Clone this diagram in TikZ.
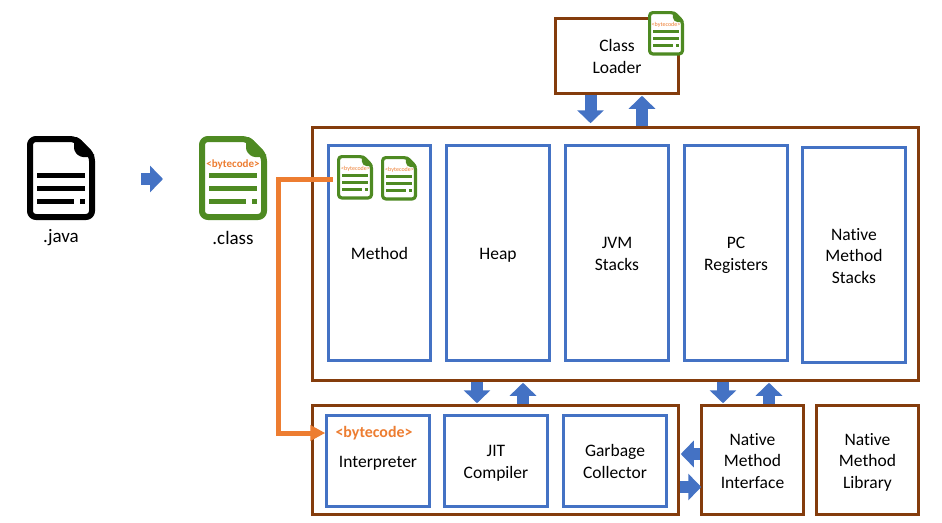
\documentclass[tikz,border=0pt]{standalone}
\usepackage{fontspec}
\setmainfont{Carlito}[Ligatures=CommonOff]
\usetikzlibrary{arrows.meta,calc}
\definecolor{brownbox}{HTML}{843C0C}
\definecolor{bluebox}{HTML}{4472C4}
\definecolor{orangeline}{HTML}{ED7D31}
\definecolor{greendoc}{HTML}{4E8A22}
\normallineskiplimit=-30pt
\lineskiplimit=-30pt
\newcommand{\ls}{\rule[-6pt]{0pt}{25pt}}
\tikzset{
  boxbase/.style={rectangle,fill=white,line width=3pt,align=center,inner sep=0pt,
    font=\fontsize{17.5}{21.5}\selectfont,text=black},
  brownframe/.style={boxbase,draw=brownbox},
  blueframe/.style={boxbase,draw=bluebox},
  blockarrow/.style={draw=bluebox,line width=12pt,-{Triangle[length=13pt,width=26pt]},shorten >=1pt},
  bytetext/.style={text=orangeline,inner sep=0pt},
  doclabel/.style={font=\fontsize{19}{22}\selectfont,inner sep=0pt,text=black},
}
% name, x1, y1, x2, y2 (outer edges), style, text
\newcommand{\framedbox}[7]{%
  \node[#6,minimum width={(#4-#2-1.5)*1pt},minimum height={(#5-#3-1.5)*1pt}] (#1)
    at ({(#2+#4)/2},{(#3+#5)/2}) {#7};}
% name, left, top, scale, colour
\newcommand{\docicon}[5]{%
  \node[inner sep=0pt,minimum width={#4*68pt},minimum height={#4*84pt}] (#1)
    at ({#2+#4*34},{#3+#4*42}) {};
  \begin{scope}[shift={(#2,#3)},scale=#4]
    \draw[draw=#5,fill=white,line width={#4*6pt},rounded corners={#4*6pt},line join=round]
      (3,3) -- (49,3) -- (65,19) -- (65,81) -- (3,81) -- cycle;
    \fill[#5,rounded corners={#4*3pt}] (47,1) -- (51,1) -- (67,18) -- (67,21) -- (53,21) -- (47,15) -- cycle;
    \fill[#5] (10,36.5) rectangle (58,41.5);
    \fill[#5] (10,49.5) rectangle (58,54.5);
    \fill[#5] (10,63) rectangle (47,68);
    \fill[#5] (53,63) rectangle (58,68);
  \end{scope}}
\begin{document}
\begin{tikzpicture}[x=1pt,y=-1pt]
\useasboundingbox (0,0) rectangle (942,522);
\fill[white] (0,0) rectangle (942,522);

% frames
\framedbox{loader}{555}{18}{679}{94}{brownframe}{\ls Class\\\ls Loader}
\framedbox{memory}{312}{127}{919}{381}{brownframe}{}
\framedbox{method}{328}{145}{431}{361}{blueframe}{\ls Method}
\framedbox{heap}{446}{145}{550}{361}{blueframe}{\ls Heap}
\framedbox{jvm}{565}{145}{669}{361}{blueframe}{\ls JVM\\\ls Stacks}
\framedbox{pc}{684}{145}{788}{361}{blueframe}{\ls PC\\\ls Registers}
\framedbox{nstack}{802}{147}{906}{363}{blueframe}{\ls Native\\\ls Method\\\ls Stacks}
\framedbox{engine}{312}{405}{679}{515}{brownframe}{}
\framedbox{interp}{326}{415}{430}{507}{blueframe}{\ls Interpreter}
\framedbox{jit}{444}{415}{548}{507}{blueframe}{\ls JIT\\\ls Compiler}
\framedbox{gc}{563}{415}{667}{507}{blueframe}{\ls Garbage\\\ls Collector}
\framedbox{nmi}{701}{405}{804}{515}{brownframe}{\ls Native\\\ls Method\\\ls Interface}
\framedbox{nml}{816}{405}{919}{515}{brownframe}{\ls Native\\\ls Method\\\ls Library}

% icons
\docicon{javadoc}{27}{136}{1}{black}
\docicon{classdoc}{199}{136}{1}{greendoc}
\docicon{loaderdoc}{648}{11}{.53}{greendoc}
\docicon{methoddocA}{337}{155}{.53}{greendoc}
\docicon{methoddocB}{381}{156}{.53}{greendoc}

\node[doclabel] (javalabel) at (61,238) {.java};
\node[doclabel] (classlabel) at (233,238) {.class};
\node[bytetext,font=\fontsize{11}{11}\selectfont\bfseries] (bcclass) at (233,165) {<bytecode>};
\node[bytetext,font=\fontsize{6}{6}\selectfont] (bcloader) at (666,25) {<bytecode>};
\node[bytetext,font=\fontsize{6}{6}\selectfont] (bcA) at (355.5,169) {<bytecode>};
\node[bytetext,font=\fontsize{6}{6}\selectfont] (bcB) at (399.5,170) {<bytecode>};
\node[bytetext,font=\fontsize{15.9}{16}\selectfont\bfseries] (bcinterp) at (374,433.5) {<bytecode>};

% block arrows
\coordinate (javaout) at (141,179);
\coordinate (classin) at (163,179);
\draw[blockarrow,shorten >=0pt] (javaout) -- (classin);
\draw[blockarrow,shorten >=3pt] (590.5,0 |- loader.south) -- (590.5,0 |- memory.north);
\draw[blockarrow] (642,0 |- memory.north) -- (642,0 |- loader.south);
\draw[blockarrow,shorten >=1pt] (477,0 |- memory.south) -- (477,0 |- engine.north);
\draw[blockarrow] (523,0 |- engine.north) -- (523,0 |- memory.south);
\draw[blockarrow,shorten >=1pt] (723,0 |- memory.south) -- (723,0 |- nmi.north);
\draw[blockarrow] (769,0 |- nmi.north) -- (769,0 |- memory.south);
\draw[blockarrow] (nmi.west |- 0,454) -- (engine.east |- 0,454);
\draw[blockarrow,shorten >=-1pt] (engine.east |- 0,487) -- (nmi.west |- 0,487);

% bytecode path
\coordinate (corner) at (278,179);
\draw[draw=orangeline,line width=5pt,-{Triangle[length=15pt,width=15pt]},shorten <=4pt]
  (methoddocA.west |- corner) -- (corner) -- (corner |- 0,433) -- (interp.west |- 0,433);
\end{tikzpicture}
\end{document}
